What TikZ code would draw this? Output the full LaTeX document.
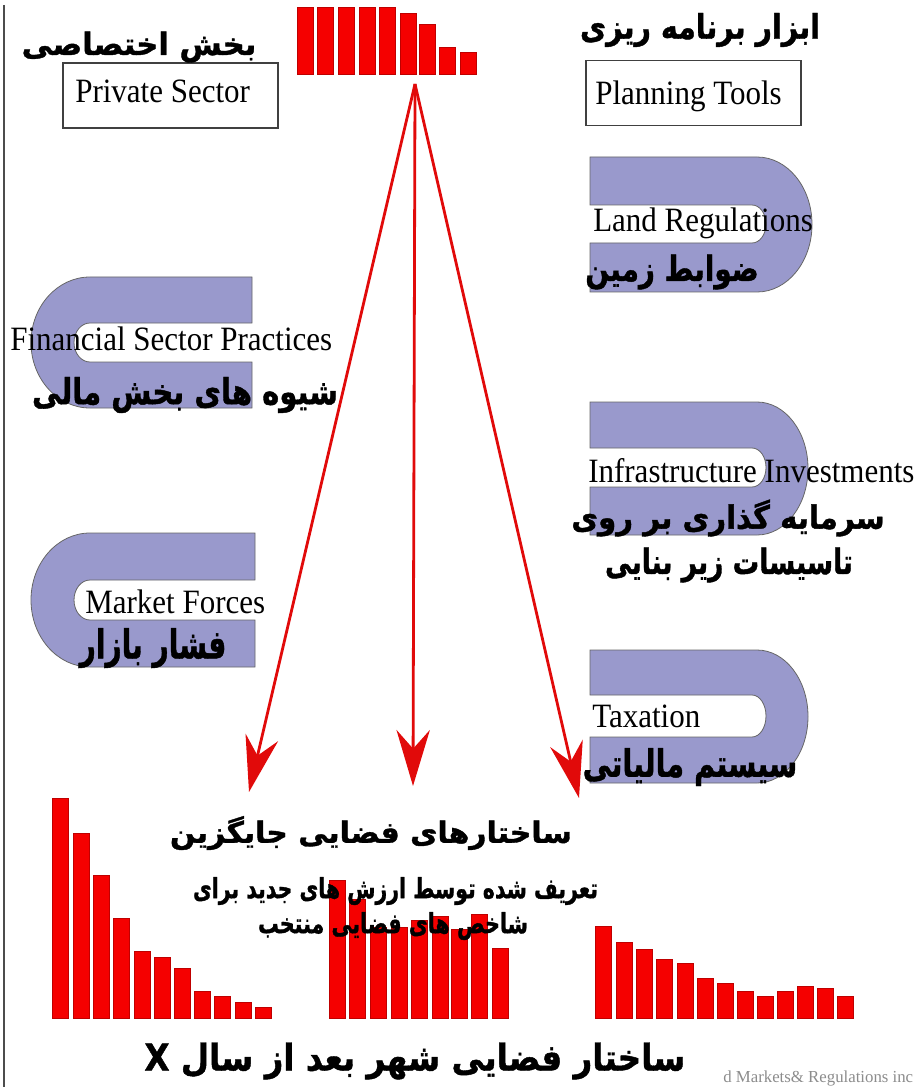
\documentclass[tikz,border=0pt]{standalone}
\usepackage{fontspec}
\usepackage{graphicx}
\setmainfont{Liberation Serif}
\newfontfamily\fa[Script=Arabic,FakeBold=1.2]{DejaVu Sans}
\TeXXeTstate=1
\usetikzlibrary{arrows.meta}
\definecolor{ulav}{RGB}{153,153,204}
\definecolor{bared}{RGB}{245,0,0}
\definecolor{arred}{RGB}{225,10,10}
\newcommand\fatxt[3]{\resizebox*{#1}{#2}{\fa\bfseries #3}}
\newcommand\entall[1]{\scalebox{1}[1.1]{#1}}
% D-shaped band open to the left: #1 top, #2 bottom, #3 slot top, #4 slot bottom, #5 outer right
\newcommand\Dshp[5]{%
\path[ushape] (590,#1) -- (757,#1) .. controls ({757+0.5523*(#5-757)},#1) and (#5,{(#1+#2)/2-0.5523*(#2-#1)/2}) .. (#5,{(#1+#2)/2}) .. controls (#5,{(#1+#2)/2+0.5523*(#2-#1)/2}) and ({757+0.5523*(#5-757)},#2) .. (757,#2) -- (590,#2) -- (590,#4) -- (752,#4) .. controls ({752+0.5523*14},#4) and (766,{(#3+#4)/2+0.5523*(#4-#3)/2}) .. (766,{(#3+#4)/2}) .. controls (766,{(#3+#4)/2-0.5523*(#4-#3)/2}) and ({752+0.5523*14},#3) .. (752,#3) -- (590,#3) -- cycle;}
% C-shaped band open to the right
\newcommand\Cshp[5]{%
\path[ushape] (#5,#1) -- (90,#1) .. controls ({90-0.5523*59},#1) and (31,{(#1+#2)/2-0.5523*(#2-#1)/2}) .. (31,{(#1+#2)/2}) .. controls (31,{(#1+#2)/2+0.5523*(#2-#1)/2}) and ({90-0.5523*59},#2) .. (90,#2) -- (#5,#2) -- (#5,#4) -- (90,#4) .. controls ({90-0.5523*16},#4) and (74,{(#3+#4)/2+0.5523*(#4-#3)/2}) .. (74,{(#3+#4)/2}) .. controls (74,{(#3+#4)/2-0.5523*(#4-#3)/2}) and ({90-0.5523*16},#3) .. (90,#3) -- (#5,#3) -- cycle;}
\begin{document}
\begin{tikzpicture}[x=0.75pt,y=-0.75pt,
 ushape/.style={fill=ulav, draw=black!60, line width=0.6pt},
 bar/.style={fill=bared, draw=red!75!black, line width=0.3pt},
 boxnode/.style={draw=black!75, line width=0.8pt, minimum width=161.25pt, minimum height=48.75pt, inner sep=0pt},
 entxt/.style={font=\fontsize{23.25pt}{26pt}\selectfont, inner sep=0pt, anchor=base west},
 fanode/.style={inner sep=0pt},
 arr/.style={draw=arred, line width=2.1pt, -{Stealth[length=42pt, width=25pt, inset=14pt]}}]
\useasboundingbox (0,0) rectangle (922,1087);
\clip (0,0) rectangle (922,1087);
% left border
\draw[black!70, line width=0.8pt] (4,5) -- (4,1087);
% top histogram
\foreach \x/\t in {297/7,317/7,338/7,359/7,379/7,400/13,419/24,439/47,460/52}
  \path[bar] (\x,\t) rectangle (\x+16,74);
% bottom histograms
\foreach \x/\t in {52/798,73/833,93/875,113/918,134/951,154/957,174/968,194/991,214/996,235/1002,255/1007}
  \path[bar] (\x,\t) rectangle (\x+16,1018);
\foreach \x/\t in {329/880,349/899,370/927,391/927,411/920,432/916,451/929,471/914,492/948}
  \path[bar] (\x,\t) rectangle (\x+16,1018);
\foreach \x/\t in {595/926,616/942,636/949,656/959,677/963,697/978,717/983,737/991,757/996,777/991,797/986,817/988,837/996}
  \path[bar] (\x,\t) rectangle (\x+16,1018);
% bands
\Dshp{157}{292}{205}{243}{812}
\Dshp{402}{535}{448}{487}{808}
\Dshp{650}{783}{695}{737}{808}
\Cshp{277}{408}{323}{362}{252}
\Cshp{533}{667}{580}{620}{255}
% boxes
\node[boxnode] (priv) at (170.5,95.5) {};
\node[entxt] (privt) at (75,103) {\entall{Private Sector}};
\node[boxnode] (plan) at (693.5,93) {};
\node[entxt] (plant) at (595,105) {\entall{Planning Tools}};
% English labels
\node[entxt] (fin) at (10,350) {\entall{Financial Sector Practices}};
\node[entxt] (land) at (593,232) {\entall{Land Regulations}};
\node[entxt] (mkt) at (85,613) {\entall{Market Forces}};
\node[entxt] (infra) at (588,482) {\entall{Infrastructure Investments}};
\node[entxt] (tax) at (592,727) {\entall{Taxation}};
% arrows
\coordinate (src) at (415,84);
\coordinate (tipL) at (249,792);
\coordinate (tipM) at (413,786);
\coordinate (tipR) at (579,798);
\draw[arr] (src) -- (tipL);
\draw[arr] (src) -- (tipM);
\draw[arr] (src) -- (tipR);
% Persian labels
\node[fanode] (privfa) at (139,47) {\fatxt{176pt}{23.25pt}{\beginR بخش اختصاصی\endR}};
\node[fanode] (planfa) at (700,30) {\fatxt{180pt}{25.5pt}{\beginR ابزار برنامه ریزی\endR}};
\node[fanode] (landfa) at (672,272) {\fatxt{130pt}{26.25pt}{\beginR ضوابط زمین\endR}};
\node[fanode] (finfa) at (185,395) {\fatxt{229.5pt}{27pt}{\beginR شیوه های بخش مالی\endR}};
\node[fanode] (infrafa1) at (728,518) {\fatxt{235pt}{27.75pt}{\beginR سرمایه گذاری بر روی\endR}};
\node[fanode] (infrafa2) at (729,565) {\fatxt{186pt}{26.25pt}{\beginR تاسیسات زیر بنایی\endR}};
\node[fanode] (mktfa) at (153,648) {\fatxt{110pt}{30pt}{\beginR فشار بازار\endR}};
\node[fanode] (taxfa) at (690,767) {\fatxt{161pt}{28.5pt}{\beginR سیستم مالیاتی\endR}};
\node[fanode] (alt) at (371,833) {\fatxt{301.5pt}{25.5pt}{\beginR ساختارهای فضایی جایگزین\endR}};
\node[fanode] (def1) at (395.5,891) {\fatxt{303.75pt}{21pt}{\beginR تعریف شده توسط ارزش های جدید برای\endR}};
\node[fanode] (def2) at (393,926) {\fatxt{202.5pt}{21pt}{\beginR شاخص های فضایی منتخب\endR}};
\node[fanode] (city) at (415,1061) {\fatxt{405.75pt}{27.75pt}{\beginR ساختار فضایی شهر بعد از سال X\endR}};
% credit line
\node[font=\fontsize{12.6pt}{14pt}\selectfont, text=black!45, anchor=base west, inner sep=0pt] (credit) at (723,1082) {d Markets\& Regulations inc};
\end{tikzpicture}
\end{document}
